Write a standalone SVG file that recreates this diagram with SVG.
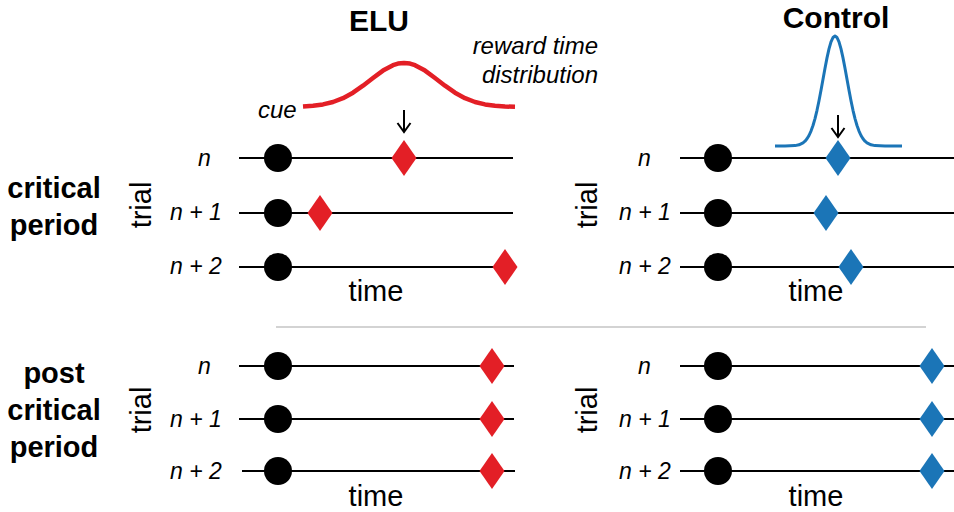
<svg xmlns="http://www.w3.org/2000/svg" width="954" height="512" viewBox="0 0 954 512">
<style>
text{font-family:"Liberation Sans",Arial,Helvetica,sans-serif;fill:#000}
.title{font-size:30px;font-weight:bold;text-anchor:middle}
.group{font-size:29px;font-weight:bold;text-anchor:middle}
.axis{font-size:29px;text-anchor:middle}
.lab{font-size:23px;font-style:italic}
.ann{font-size:24px;font-style:italic}
.tl{stroke:#000;stroke-width:2;fill:none}
.cue{fill:#000}
.red{fill:#e31f26}
.blue{fill:#1b75b7}
.arr{stroke:#000;stroke-width:2;fill:none}
</style>
<defs>
<circle id="cuedot" r="14" cx="0" cy="0"/>
<path id="dia" d="M0,-18 L12.5,0 L0,18 L-12.5,0 Z"/>
</defs>
<rect width="954" height="512" fill="#fff"/>

<g id="titles">
<text class="title" x="379" y="31">ELU</text>
<text class="title" x="836" y="28">Control</text>
</g>

<g id="row-labels">
<text class="group" x="54" y="198">critical</text>
<text class="group" x="54" y="235">period</text>
<text class="group" x="54" y="383">post</text>
<text class="group" x="54" y="420">critical</text>
<text class="group" x="54" y="457">period</text>
</g>

<g id="distributions">
<polyline fill="none" stroke="#e31f26" stroke-width="4.5" stroke-linejoin="round" points="303,106.5 313,105.8 323,104.4 333,102 343,98.2 353,92.7 363,85.7 373,78 383,70.6 393,65.2 398,63.6 404,63 410,63.6 415,65.2 425,70.6 435,78 445,85.7 455,92.7 465,98.2 475,102 485,104.4 495,105.8 505,106.5 515,106.8"/>
<polyline fill="none" stroke="#1b75b7" stroke-width="3" stroke-linejoin="round" points="775,146 785,145.9 795,145.6 799,144.8 803,142.9 805,141.2 807,138.8 809,135.5 811,131.1 813,125.5 815,118.6 817,110.3 819,100.8 821,90.3 823,79.3 825,68.3 827,57.9 829,48.9 831,41.9 833,37.5 835,36 837,37.5 839,41.9 841,48.9 843,57.9 845,68.3 847,79.3 849,90.3 851,100.8 853,110.3 855,118.6 857,125.5 859,131.1 861,135.5 863,138.8 865,141.2 867,142.9 871,144.8 875,145.6 885,145.9 902,146"/>
<text class="ann" x="258" y="118">cue</text>
<text class="ann" x="598" y="54" text-anchor="end">reward time</text>
<text class="ann" x="598" y="83" text-anchor="end">distribution</text>
</g>

<g id="connectors">
<path class="arr" d="M404,110 V132 M397.5,123 L404,132 L410.5,123"/>
<path class="arr" d="M838,115 V137 M831.5,128 L838,137 L844.5,128"/>
<line x1="276" y1="327" x2="926" y2="327" stroke="#c4c4c4" stroke-width="1.5"/>
</g>

<g id="elu-critical">
<text class="axis" transform="translate(151,205) rotate(-90)">trial</text>
<text class="lab" x="198" y="166">n</text>
<text class="lab" x="170" y="220">n + 1</text>
<text class="lab" x="170" y="274">n + 2</text>
<line class="tl" x1="239" y1="158" x2="513" y2="158"/>
<line class="tl" x1="239" y1="213" x2="513" y2="213"/>
<line class="tl" x1="239" y1="267" x2="513" y2="267"/>
<use href="#cuedot" class="cue" x="278" y="158"/>
<use href="#cuedot" class="cue" x="278" y="213"/>
<use href="#cuedot" class="cue" x="278" y="267"/>
<use href="#dia" class="red" x="404" y="158"/>
<use href="#dia" class="red" x="320" y="213"/>
<use href="#dia" class="red" x="505" y="267"/>
<text class="axis" x="376" y="301">time</text>
</g>

<g id="control-critical">
<text class="axis" transform="translate(597,205) rotate(-90)">trial</text>
<text class="lab" x="638" y="166">n</text>
<text class="lab" x="619" y="220">n + 1</text>
<text class="lab" x="619" y="274">n + 2</text>
<line class="tl" x1="680" y1="158" x2="954" y2="158"/>
<line class="tl" x1="680" y1="213" x2="954" y2="213"/>
<line class="tl" x1="680" y1="267" x2="954" y2="267"/>
<use href="#cuedot" class="cue" x="718" y="158"/>
<use href="#cuedot" class="cue" x="718" y="213"/>
<use href="#cuedot" class="cue" x="718" y="267"/>
<use href="#dia" class="blue" x="838" y="158"/>
<use href="#dia" class="blue" x="826" y="213"/>
<use href="#dia" class="blue" x="851" y="267"/>
<text class="axis" x="816" y="301">time</text>
</g>

<g id="elu-post">
<text class="axis" transform="translate(151,410) rotate(-90)">trial</text>
<text class="lab" x="198" y="374">n</text>
<text class="lab" x="170" y="427">n + 1</text>
<text class="lab" x="170" y="479">n + 2</text>
<line class="tl" x1="239" y1="366" x2="514" y2="366"/>
<line class="tl" x1="239" y1="419" x2="514" y2="419"/>
<line class="tl" x1="242" y1="471" x2="515" y2="471"/>
<use href="#cuedot" class="cue" x="278" y="366"/>
<use href="#cuedot" class="cue" x="278" y="419"/>
<use href="#cuedot" class="cue" x="278" y="471"/>
<use href="#dia" class="red" x="492" y="366"/>
<use href="#dia" class="red" x="492" y="419"/>
<use href="#dia" class="red" x="492" y="471"/>
<text class="axis" x="376" y="506">time</text>
</g>

<g id="control-post">
<text class="axis" transform="translate(597,410) rotate(-90)">trial</text>
<text class="lab" x="638" y="374">n</text>
<text class="lab" x="619" y="427">n + 1</text>
<text class="lab" x="619" y="479">n + 2</text>
<line class="tl" x1="680" y1="366" x2="954" y2="366"/>
<line class="tl" x1="680" y1="419" x2="954" y2="419"/>
<line class="tl" x1="680" y1="471" x2="954" y2="471"/>
<use href="#cuedot" class="cue" x="718" y="366"/>
<use href="#cuedot" class="cue" x="718" y="419"/>
<use href="#cuedot" class="cue" x="718" y="471"/>
<use href="#dia" class="blue" x="932" y="366"/>
<use href="#dia" class="blue" x="932" y="419"/>
<use href="#dia" class="blue" x="932" y="471"/>
<text class="axis" x="816" y="506">time</text>
</g>
</svg>
